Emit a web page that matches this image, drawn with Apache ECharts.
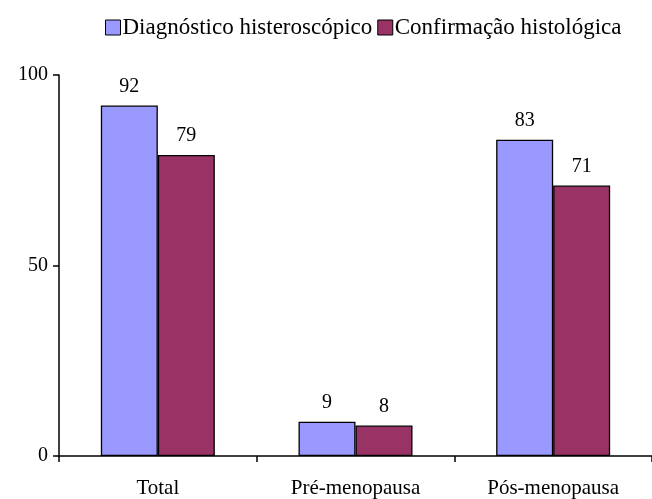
<!DOCTYPE html>
<html><head><meta charset="utf-8">
<script src="https://cdn.jsdelivr.net/npm/echarts@6/dist/echarts.min.js"></script>
<style>html,body{margin:0;padding:0;background:#fff}#c{width:652px;height:499px}</style>
</head><body><div id="c"></div>
<script>
var categories = ['Total', 'Pré-menopausa', 'Pós-menopausa'];
var seriesNames = ['Diagnóstico histeroscópico', 'Confirmação histológica'];
var diagnostico = [92, 9, 83];
var confirmacao = [79, 8, 71];
var yTicks = [0, 50, 100];

var font = '"Liberation Serif", "Times New Roman", serif';
var chart = echarts.init(document.getElementById('c'));
function mk(name, data, color) {
  return {
    name: name, type: 'bar', data: data, barWidth: 57, barGap: '0%',
    itemStyle: { color: color, borderColor: '#000', borderWidth: 1.3 },
    label: { show: true, position: 'top', distance: 9, color: '#000', fontFamily: font, fontSize: 20 }
  };
}
chart.setOption({
  animation: false,
  legend: {
    top: 11, left: 100, itemWidth: 15, itemHeight: 15, itemGap: 5,
    icon: 'rect',
    textStyle: { fontFamily: font, fontSize: 23, color: '#000', padding: [0, 0, 0, -3] },
    itemStyle: { borderColor: '#000', borderWidth: 1 },
    data: seriesNames
  },
  grid: { left: 59, right: -3, top: 75, bottom: 41 },
  xAxis: {
    type: 'category', data: categories,
    axisLine: { lineStyle: { color: '#000', width: 1.5 } },
    axisTick: { show: true, length: 6, lineStyle: { color: '#000', width: 1.5 } },
    axisLabel: { color: '#000', fontFamily: font, fontSize: 21, margin: 22 }
  },
  yAxis: {
    type: 'value', min: yTicks[0], max: yTicks[yTicks.length - 1], interval: 50,
    splitLine: { show: false },
    axisLine: { show: true, lineStyle: { color: '#000', width: 1.5 } },
    axisTick: { show: true, length: 6, lineStyle: { color: '#000', width: 1.5 } },
    axisLabel: { color: '#000', fontFamily: font, fontSize: 20, margin: 11 }
  },
  series: [mk(seriesNames[0], diagnostico, '#9999FF'), mk(seriesNames[1], confirmacao, '#993366')]
});
</script></body></html>
